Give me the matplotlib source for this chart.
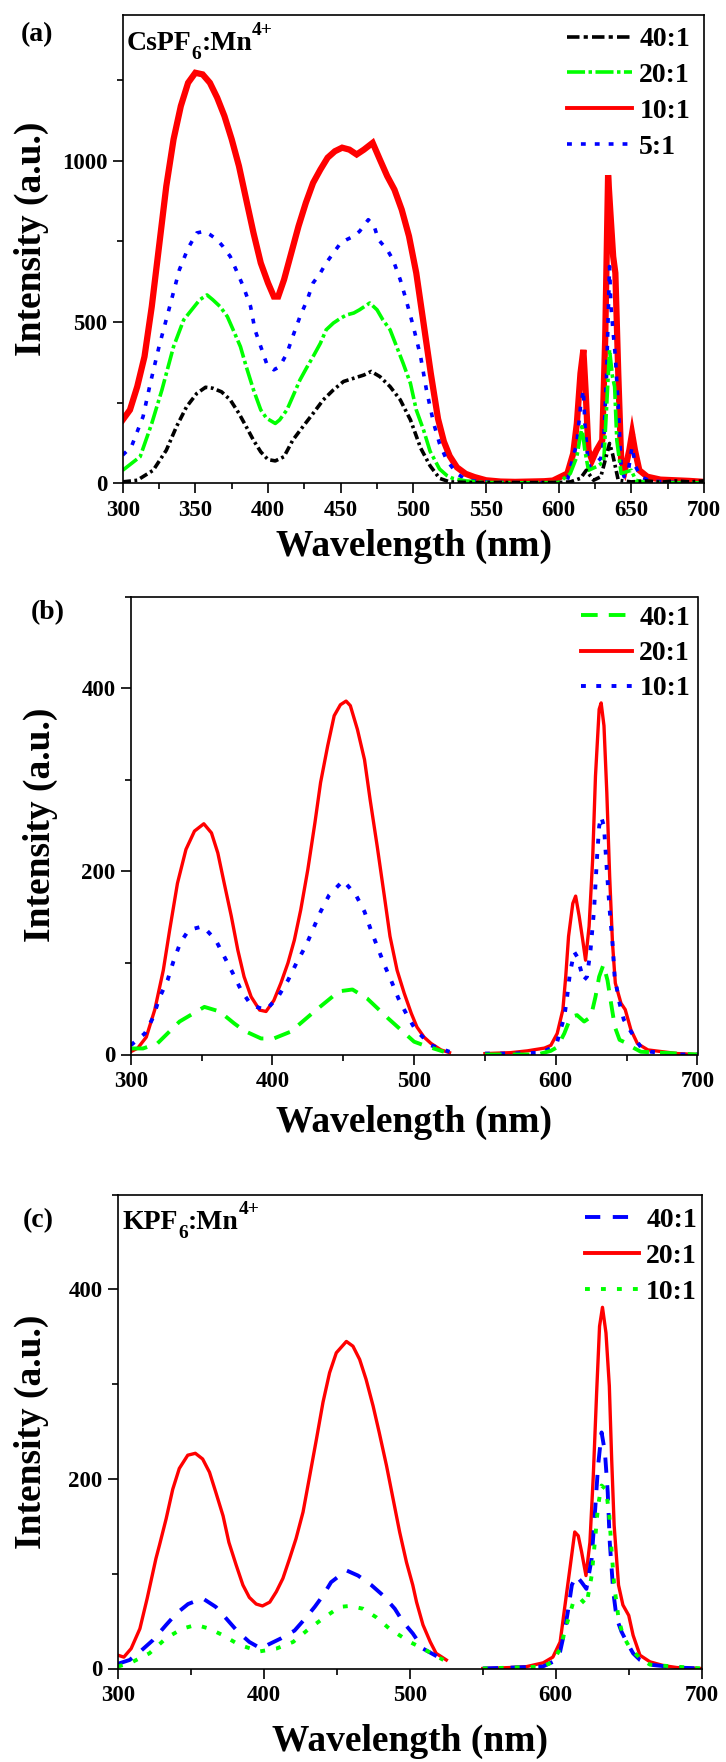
import matplotlib
matplotlib.use("Agg")
import matplotlib.pyplot as plt
from matplotlib.lines import Line2D
from matplotlib.ticker import MultipleLocator
from matplotlib.font_manager import FontProperties

plt.rcParams['font.family'] = ['Liberation Serif', 'DejaVu Serif']
plt.rcParams['font.weight'] = 'bold'
plt.rcParams['mathtext.fontset'] = 'custom'
plt.rcParams['mathtext.rm'] = 'Liberation Serif:bold'
plt.rcParams['mathtext.it'] = 'Liberation Serif:bold'
plt.rcParams['mathtext.bf'] = 'Liberation Serif:bold'
plt.rcParams['lines.scale_dashes'] = False

# ---------------- Panel (a): CsPF6:Mn4+ ----------------
a_labels = ["40:1", "20:1", "10:1", "5:1"]

a_wl_40 = [300, 310, 321, 330, 337, 344, 351, 357, 362, 368, 374, 380, 385, 390, 395, 400, 405, 411,
           417, 424, 431, 438, 445, 452, 459, 466, 471, 477, 484, 491, 498, 505, 511.5, 518, 525, 540,
           560, 580, 600, 608, 615, 619, 624, 629, 632, 635, 637, 639, 641, 650, 660, 670, 680, 690, 700]
a_int_40 = [5, 10, 41, 103, 176, 238, 279, 298, 295, 284, 259, 217, 176, 134, 98, 74, 70, 83,
            134, 176, 217, 259, 290, 316, 326, 336, 347, 331, 300, 259, 197, 110, 55, 16, 5, 3,
            3, 3, 3, 5, 16, 41, 10, 21, 72, 124, 93, 52, 10, 5, 8, 4, 8, 5, 8]

a_wl_20 = [300, 312, 320, 327, 335, 342, 347.5, 353, 358, 362, 367, 372, 376, 381, 385, 390, 395, 399,
           405, 408, 413, 417, 422, 427, 431, 436, 440, 445, 450, 454, 459, 463, 470, 475, 479, 484,
           488.5, 493, 498, 502, 507, 511.5, 518, 523, 527, 536, 550, 580, 600, 608, 612.5, 616, 618,
           620.5, 626, 631, 633, 635, 637, 638.5, 640, 643, 650, 653, 660, 700]
a_int_20 = [41, 83, 186, 290, 424, 507, 538, 569, 584, 569, 548, 517, 476, 424, 362, 290, 228, 202,
            186, 197, 228, 269, 321, 362, 393, 434, 476, 497, 512, 522, 528, 538, 559, 538, 507, 476,
            424, 372, 310, 228, 166, 100, 45, 25, 16, 8, 3, 2, 3, 31, 83, 176, 103,
            41, 52, 67, 238, 414, 331, 300, 134, 31, 41, 10, 3, 2]

a_wl_10 = [300, 305, 310, 315, 320, 325, 330, 335, 340, 345, 350, 355, 360, 365, 370, 375, 380, 385,
           390, 395, 400, 404, 407, 411, 416, 421, 426, 431, 436, 441, 446, 451, 456, 461, 466, 472,
           477, 482, 487, 492, 497, 502, 507, 512, 517, 521, 525, 530, 536, 542, 550, 560, 570, 580,
           590, 596, 601, 606, 610, 612.5, 615, 617, 618.5, 620.5, 623, 626, 630, 632, 634, 635.6,
           637.5, 639, 641, 643, 645.5, 648.6, 650.5, 652.5, 655.5, 661, 670, 680, 690, 700]
a_int_10 = [197, 228, 300, 393, 548, 734, 921, 1066, 1169, 1241, 1272, 1267, 1241, 1195, 1138, 1066, 983, 879,
            776, 683, 621, 579, 579, 631, 714, 797, 869, 931, 972, 1009, 1029, 1040, 1034, 1019, 1034, 1055,
            1003, 952, 910, 848, 766, 652, 497, 341, 200, 130, 85, 50, 30, 20, 10, 6, 5, 6,
            7, 9, 20, 31, 93, 186, 341, 414, 290, 103, 72, 103, 134, 445, 955, 838,
            703, 652, 341, 72, 41, 103, 155, 103, 41, 21, 12, 10, 8, 5]

a_wl_5 = [300, 306, 314, 319, 325, 333, 339, 345, 351, 356, 360, 365, 369, 374, 378, 383, 388, 391,
          395, 399, 404, 408, 413, 417, 422, 427, 431, 436, 440, 445, 450, 454, 459, 463, 469, 473,
          476, 482, 486, 491, 495, 500, 505, 509, 514, 518, 523, 530, 536, 546, 560, 580, 600, 606,
          610, 612.5, 615, 617, 618, 620.5, 624, 629, 631, 633, 635, 636, 637.5, 639, 641, 643, 645,
          648, 650.5, 653, 656.5, 663, 680, 700]
a_int_5 = [88, 114, 207, 310, 424, 559, 662, 729, 776, 781, 771, 755, 734, 703, 662, 610, 548, 476,
           424, 372, 352, 362, 403, 455, 517, 569, 621, 652, 683, 714, 745, 755, 766, 781, 817, 797,
           755, 724, 693, 631, 569, 486, 393, 290, 186, 124, 72, 31, 12, 5, 3, 2, 3, 10,
           83, 124, 238, 290, 186, 52, 57, 78, 134, 341, 672, 548, 466, 393, 238, 52, 21,
           41, 114, 52, 21, 8, 3, 2]

# ---------------- Panel (b) ----------------
b_labels = ["40:1", "20:1", "10:1"]

b_exc_wl_40 = [300, 308.7, 318.8, 334.5, 352, 362.7, 373, 380, 392, 401, 413, 429.6, 447, 456.5, 467, 482, 500, 507, 521]
b_exc_40 = [6.6, 6.6, 12, 36, 52, 47, 34, 26, 17.5, 17.5, 25, 47, 69, 71, 61, 39, 14, 10, 3]
b_em_wl_40 = [550, 587, 596.5, 601, 606, 610.6, 615, 620, 624.7, 628, 630.6, 633.6, 636.5, 639, 641.7, 645, 650.6, 654, 660, 700]
b_em_40 = [0, 0, 4, 8, 23, 41, 43, 36, 41, 63, 85, 98, 81, 56, 30, 16, 12, 8, 3, 0]

b_exc_wl_20 = [300, 305, 311, 317, 323, 327.5, 333, 339, 345, 351.6, 357, 361.5, 366, 371, 375.6, 380, 385, 391,
               395.5, 401, 406, 411, 415.5, 420, 425, 430, 434, 439, 443.6, 448, 452, 455, 460, 465, 469, 474,
               479, 483, 488, 493, 498, 502, 507, 512, 519, 525]
b_exc_20 = [3, 7, 19, 49, 92, 136, 187, 224, 244, 252, 242, 220, 187, 151, 114, 85, 63, 48.5,
            47, 59, 78, 100, 125, 158, 202, 253, 297, 337, 370, 382, 386, 381, 355, 322, 278, 227,
            173, 129, 92, 67, 45, 30, 19, 12, 5, 2]
b_em_wl_20 = [550, 568, 580, 592, 596.5, 601, 605, 607, 609, 612, 614, 616.5, 619, 621, 623.5, 626, 628, 630.6,
              632, 634, 636, 638, 640, 642, 646, 649, 653, 657.6, 665, 686, 700]
b_em_20 = [1, 2, 4, 7, 10, 23, 49, 85, 129, 165, 173, 151, 125, 103, 140, 213, 304, 377,
           384, 359, 286, 195, 122, 78, 56, 49, 27, 12, 5, 1, 0]

b_exc_wl_10 = [300, 310, 316, 320, 326, 330, 335, 341, 351, 360, 366, 372, 378, 385, 395.5, 404, 411, 417,
               424, 429, 434, 440, 450, 459, 465, 469.5, 474, 479, 484, 489, 495, 501, 512, 525]
b_exc_10 = [10, 23, 41, 61, 81, 101, 122, 136, 140, 125, 107, 89, 70, 54, 48.5, 63, 81, 100,
            120, 138, 156, 174, 190, 174, 156, 136, 118, 98, 80, 61, 43, 27, 10, 3]
b_em_wl_10 = [550, 570, 590, 596.5, 601, 606, 608, 610, 613, 615, 617, 619.7, 622, 624.5, 627, 629, 630.6, 632,
              634, 636, 638, 640, 641.5, 645, 648, 653, 660, 667, 686, 700]
b_em_10 = [1, 1, 2, 7, 14, 41, 63, 89, 112, 107, 96, 81, 85, 114, 158, 213, 249, 260,
           249, 202, 158, 122, 85, 56, 38, 25, 8, 3, 0, 0]

# ---------------- Panel (c): KPF6:Mn4+ ----------------
c_labels = ["40:1", "20:1", "10:1"]

c_exc_wl_40 = [300, 308, 316, 324, 333, 340, 348, 358, 367, 374, 382, 390, 398, 402.7, 412, 421, 429, 434.8,
               440.5, 446, 456.5, 464.5, 473.6, 481.7, 489.7, 495.4, 502, 509, 523]
c_exc_40 = [5, 9, 19, 30, 46, 58, 68, 74, 65, 53, 39, 28, 21, 25, 32, 40, 54, 65,
            77, 91, 103.5, 98, 88, 77, 63, 49, 37, 21, 9]
c_em_wl_40 = [550, 591, 598, 603, 606, 608.6, 611, 614, 617.7, 621, 624.6, 627, 629, 631.4, 633.7, 635.6, 637,
              639.4, 641.7, 645, 648.6, 653, 657.7, 664.6, 683, 700]
c_em_40 = [0, 2, 7, 18, 39, 63, 88, 98, 91, 84, 116, 168, 214, 249, 228, 186, 133,
           81, 53, 39, 28, 16, 9, 4, 1, 0]

c_exc_wl_20 = [300, 304, 309, 315, 320, 326, 328.4, 333, 337.5, 342, 347.8, 353, 358, 362.7, 367, 372, 376, 381,
               385.6, 390, 394.7, 399, 404, 408.5, 413, 417.6, 422, 426.8, 431, 436, 440.5, 445, 449.6, 456.5,
               461, 465.6, 470, 474.8, 479, 484, 488.5, 493, 497.7, 502, 504.6, 509, 514, 518, 525]
c_exc_20 = [14, 12, 21, 42, 74, 116, 130, 158, 189, 211, 225, 227, 221, 207, 186, 161, 133, 109,
            88, 75, 68, 66, 70, 81, 95, 116, 137, 165, 200, 242, 281, 312, 333, 345,
            340, 326, 305, 277, 249, 214, 179, 144, 112, 88, 70, 46, 28, 16, 9]
c_em_wl_20 = [550, 568.6, 580, 591.4, 598, 603, 606, 610, 613, 615.4, 617.7, 620.7, 623.4, 625.7, 628, 630, 632,
              634.4, 636.7, 638.3, 640, 643, 646, 650, 653, 657.7, 664.6, 674, 683, 700]
c_em_20 = [0, 1, 2, 6, 12, 28, 63, 109, 144, 140, 123, 98, 133, 203, 291, 361, 381,
           354, 298, 221, 151, 88, 67, 56, 35, 14, 7, 3, 1, 0]

c_exc_wl_10 = [300, 310, 321.5, 333, 344, 353.5, 362.7, 372, 383, 397, 408.5, 420, 431, 441.6, 452, 459, 468,
               477, 486, 495, 500, 509, 523]
c_exc_10 = [2, 7, 16, 32, 42, 46, 42, 35, 25, 18, 21, 28, 42, 54, 65, 66, 63, 54, 42, 33, 28, 21, 9]
c_em_wl_10 = [550, 591, 598, 603, 607.4, 612, 616.6, 621, 624.6, 627, 629, 631.4, 634.4, 636.7, 638.3, 640, 643,
              646, 651, 657.7, 664.6, 700]
c_em_10 = [0, 2, 7, 21, 46, 70, 74, 67, 98, 137, 172, 193, 189, 161, 123, 88, 53, 35, 21, 11, 4, 0]

RED, BLUE, GREEN, BLACK = "#ff0000", "#0000ff", "#00ff00", "#000000"

W, H = 726, 1762
fig = plt.figure(figsize=(W / 100, H / 100), dpi=100)


def add_axes_px(l, t, r, b):
    return fig.add_axes([l / W, 1 - b / H, (r - l) / W, (b - t) / H])


def style_axes(ax, xmaj, xmin, ymaj, ymin, ymax):
    ax.set_xlim(300, 700)
    ax.set_ylim(0, ymax)
    ax.xaxis.set_major_locator(MultipleLocator(xmaj))
    ax.xaxis.set_minor_locator(MultipleLocator(xmin))
    ax.yaxis.set_major_locator(MultipleLocator(ymaj))
    ax.yaxis.set_minor_locator(MultipleLocator(ymin))
    ax.tick_params(which='major', direction='out', length=7, width=1.2, labelsize=16.5)
    ax.tick_params(which='minor', direction='out', length=4.5, width=1.2)
    ax.tick_params(axis='x', which='major', pad=5)
    ax.tick_params(axis='y', which='major', pad=4)
    for lab in ax.get_xticklabels() + ax.get_yticklabels():
        lab.set_fontweight('bold')
    for s in ax.spines.values():
        s.set_linewidth(1.2)


def fig_text(x, y, s, **kw):
    return fig.text(x / W, 1 - y / H, s, **kw)


def formula(x, y, base, sub, tail, sup):
    """Chemical formula drawn as real text pieces: base + subscript + tail + superscript."""
    t1 = fig_text(x, y, base, fontsize=20, fontweight='bold', ha='left', va='baseline')
    fig.canvas.draw()
    r = fig.canvas.get_renderer()
    bb = t1.get_window_extent(r)
    x1 = bb.x1
    t2 = fig.text(x1 / W, 1 - (y + 9) / H, sub, fontsize=14, fontweight='bold', ha='left', va='baseline')
    bb2 = t2.get_window_extent(r)
    t3 = fig.text(bb2.x1 / W, 1 - y / H, tail, fontsize=20, fontweight='bold', ha='left', va='baseline')
    bb3 = t3.get_window_extent(r)
    fig.text(bb3.x1 / W, 1 - (y - 15) / H, sup, fontsize=14, fontweight='bold', ha='left', va='baseline')


leg_font = FontProperties(family='Liberation Serif', weight='bold', size=20)


def add_legend(ax, handles, labels, right, top, hl, ls):
    ax.legend(handles, labels, loc='upper right', bbox_to_anchor=(right / W, 1 - top / H),
              bbox_transform=fig.transFigure, frameon=False, borderpad=0, borderaxespad=0,
              handlelength=hl, handletextpad=0.25, labelspacing=ls, prop=leg_font)


# ---- (a)
axa = add_axes_px(122.7, 15.3, 704, 483.5)
axa.plot(a_wl_10, a_int_10, color=RED, lw=4.5, solid_joinstyle='miter')
axa.plot(a_wl_5, a_int_5, color=BLUE, lw=2.6, dashes=(3.5, 6.5))
axa.plot(a_wl_20, a_int_20, color=GREEN, lw=2.6, dashes=(13, 2.5, 2.5, 2.5))
axa.plot(a_wl_40, a_int_40, color=BLACK, lw=2.6, dashes=(6, 2.5, 2, 2.5))
style_axes(axa, 50, 25, 500, 250, 1450)
ha = [Line2D([], [], color=BLACK, lw=2.6, dashes=(9, 3, 3, 3)),
      Line2D([], [], color=GREEN, lw=2.6, dashes=(13, 2.5, 2.5, 2.5)),
      Line2D([], [], color=RED, lw=2.8),
      Line2D([], [], color=BLUE, lw=2.6, dashes=(3.5, 6.5))]
add_legend(axa, ha, a_labels, 690, 27, 2.34, 0.37)
fig_text(37, 35, "(a)", fontsize=20, fontweight='bold', ha='center', va='center')
formula(127, 50, "CsPF", "6", ":Mn", "4+")
fig_text(414, 555.5, "Wavelength (nm)", fontsize=27, fontweight='bold', ha='center', va='baseline')
fig_text(31.3, 239, "Intensity (a.u.)", fontsize=27, fontweight='bold', ha='center', va='center', rotation=90)

# ---- (b)
axb = add_axes_px(130.7, 596.7, 697.5, 1054.5)
axb.plot(b_exc_wl_20, b_exc_20, color=RED, lw=2.4)
axb.plot(b_em_wl_20, b_em_20, color=RED, lw=2.4)
axb.plot(b_exc_wl_10, b_exc_10, color=BLUE, lw=2.8, dashes=(3.5, 7.5))
axb.plot(b_em_wl_10, b_em_10, color=BLUE, lw=2.8, dashes=(3.5, 7.5))
axb.plot(b_exc_wl_40, b_exc_40, color=GREEN, lw=2.8, dashes=(12, 8))
axb.plot(b_em_wl_40, b_em_40, color=GREEN, lw=2.8, dashes=(12, 8))
style_axes(axb, 100, 50, 200, 100, 500)
hb = [Line2D([], [], color=GREEN, lw=2.8, dashes=(12, 8)),
      Line2D([], [], color=RED, lw=2.8),
      Line2D([], [], color=BLUE, lw=2.8, dashes=(3.5, 7.5))]
add_legend(axb, hb, b_labels, 690, 605.7, 1.85, 0.35)
fig_text(47.5, 613, "(b)", fontsize=20, fontweight='bold', ha='center', va='center')
fig_text(414, 1132, "Wavelength (nm)", fontsize=27, fontweight='bold', ha='center', va='baseline')
fig_text(40.5, 825, "Intensity (a.u.)", fontsize=27, fontweight='bold', ha='center', va='center', rotation=90)

# ---- (c)
axc = add_axes_px(118, 1194.5, 701.7, 1668.5)
axc.plot(c_exc_wl_20, c_exc_20, color=RED, lw=2.4)
axc.plot(c_em_wl_20, c_em_20, color=RED, lw=2.4)
axc.plot(c_exc_wl_40, c_exc_40, color=BLUE, lw=2.8, dashes=(11, 9))
axc.plot(c_em_wl_40, c_em_40, color=BLUE, lw=2.8, dashes=(11, 9))
axc.plot(c_exc_wl_10, c_exc_10, color=GREEN, lw=2.8, dashes=(3.5, 8))
axc.plot(c_em_wl_10, c_em_10, color=GREEN, lw=2.8, dashes=(3.5, 8))
style_axes(axc, 100, 50, 200, 100, 500)
hc = [Line2D([], [], color=BLUE, lw=2.8, dashes=(11, 9)),
      Line2D([], [], color=RED, lw=2.8),
      Line2D([], [], color=GREEN, lw=2.8, dashes=(3.5, 8))]
add_legend(axc, hc, c_labels, 697, 1207.3, 1.95, 0.38)
fig_text(38, 1220.5, "(c)", fontsize=20, fontweight='bold', ha='center', va='center')
formula(122.7, 1229, "KPF", "6", ":Mn", "4+")
fig_text(410, 1751, "Wavelength (nm)", fontsize=27, fontweight='bold', ha='center', va='baseline')
fig_text(31.3, 1431.6, "Intensity (a.u.)", fontsize=27, fontweight='bold', ha='center', va='center', rotation=90)

fig.savefig("out.png", dpi=100)
